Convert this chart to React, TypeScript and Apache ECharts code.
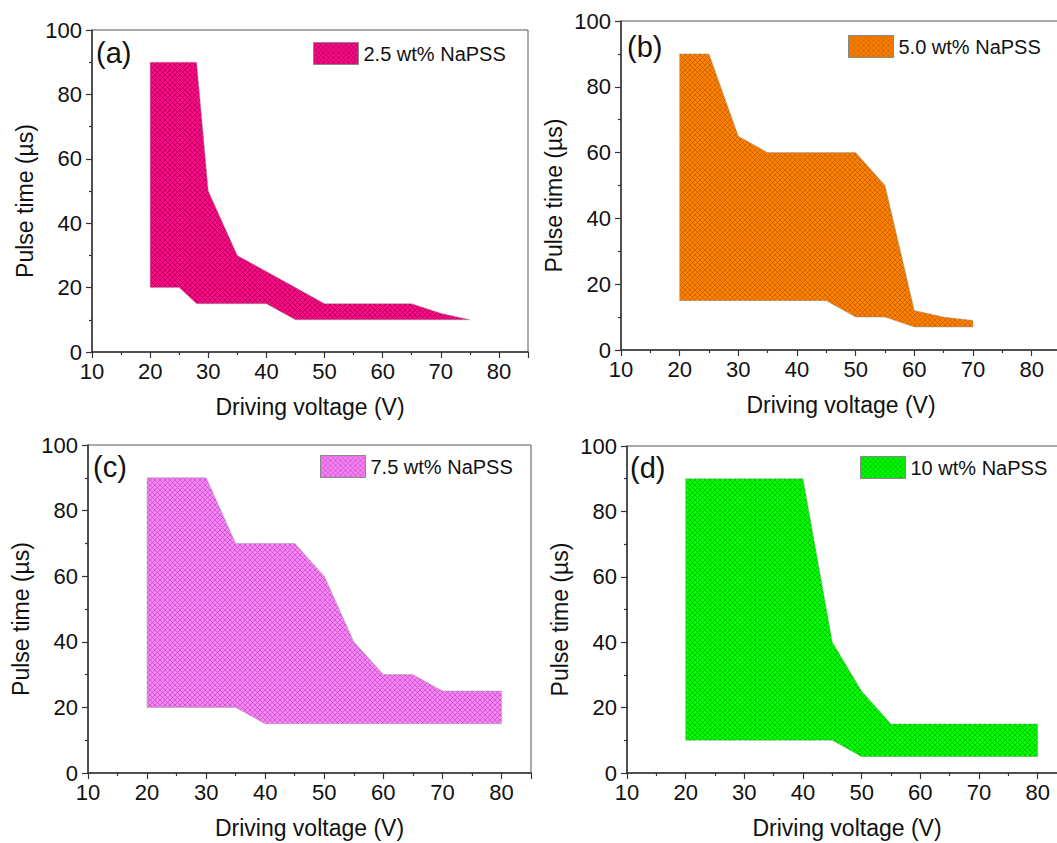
import React, { useEffect, useRef } from "react";
import * as echarts from "echarts";

// ---------- data ----------
const panelLabels = ["(a)", "(b)", "(c)", "(d)"];
const seriesNames = ["2.5 wt% NaPSS", "5.0 wt% NaPSS", "7.5 wt% NaPSS", "10 wt% NaPSS"];
const xName = "Driving voltage (V)";
const yName = "Pulse time (\u00B5s)";

// upper and lower boundaries of the working window, [voltage, pulse time]
const upperA = [[20, 90], [28, 90], [30, 50], [35, 30], [40, 25], [45, 20], [50, 15], [65, 15], [70, 12], [75, 10]];
const lowerA = [[20, 20], [25, 20], [28, 15], [40, 15], [45, 10], [75, 10]];
const upperB = [[20, 90], [25, 90], [30, 65], [35, 60], [50, 60], [55, 50], [60, 12], [65, 10], [70, 9]];
const lowerB = [[20, 15], [45, 15], [50, 10], [55, 10], [60, 7], [70, 7]];
const upperC = [[20, 90], [30, 90], [35, 70], [45, 70], [50, 60], [55, 40], [60, 30], [65, 30], [70, 25], [80, 25]];
const lowerC = [[20, 20], [35, 20], [40, 15], [80, 15]];
const upperD = [[20, 90], [40, 90], [45, 40], [50, 25], [55, 15], [80, 15]];
const lowerD = [[20, 10], [45, 10], [50, 5], [80, 5]];

const uppers = [upperA, upperB, upperC, upperD];
const lowers = [lowerA, lowerB, lowerC, lowerD];

// ---------- style / layout ----------
const FONT = '"Liberation Sans", Arial, sans-serif';
const grids = [
  { left: 92, top: 30, width: 436, height: 322 },
  { left: 621, top: 21, width: 440, height: 329 },
  { left: 88, top: 445, width: 443, height: 328 },
  { left: 627, top: 446, width: 440, height: 327 },
];
const legendPos = [
  { left: 313, top: 42 },
  { left: 848, top: 35 },
  { left: 320, top: 455 },
  { left: 860, top: 456 },
];
const labelPos = [
  { x: 96, y: 53 },
  { x: 627, y: 47 },
  { x: 93, y: 467 },
  { x: 630, y: 468 },
];
const fillColors = [
  { base: "#ff0a86", line: "#a8005a" },
  { base: "#ff8000", line: "#c06200" },
  { base: "#ff80ff", line: "#b45ab4" },
  { base: "#00ff00", line: "#00b400" },
];

function makePattern(base: string, line: string) {
  const s = 5;
  const c = document.createElement("canvas");
  c.width = s;
  c.height = s;
  const ctx = c.getContext("2d")!;
  ctx.fillStyle = base;
  ctx.fillRect(0, 0, s, s);
  ctx.strokeStyle = line;
  ctx.lineWidth = 0.8;
  ctx.beginPath();
  ctx.moveTo(-1, -1);
  ctx.lineTo(s + 1, s + 1);
  ctx.moveTo(-1, s + 1);
  ctx.lineTo(s + 1, -1);
  ctx.stroke();
  return { image: c, repeat: "repeat", imageWidth: s, imageHeight: s } as any;
}

export default function App() {
  const ref = useRef<HTMLDivElement>(null);
  useEffect(() => {
    if (!ref.current) return;
    const chart = echarts.init(ref.current, undefined, { renderer: "svg" });
    const patterns = fillColors.map((f) => makePattern(f.base, f.line));

    const xAxes = grids.map((_, i) => ({
      type: "value",
      gridIndex: i,
      min: 10,
      max: 85,
      interval: 10,
      name: xName,
      nameLocation: "middle",
      nameGap: 43,
      nameTextStyle: { fontSize: 23, fontFamily: FONT, color: "#111" },
      axisLine: { show: true, onZero: false, lineStyle: { color: "#333", width: 1.5 } },
      axisTick: { show: true, inside: false, length: 6, lineStyle: { color: "#333", width: 1.2 } },
      minorTick: { show: true, splitNumber: 2, length: 3, lineStyle: { color: "#333", width: 1.2 } },
      axisLabel: { fontSize: 22, fontFamily: FONT, color: "#111", margin: 8, showMaxLabel: false },
      splitLine: { show: false },
      minorSplitLine: { show: false },
    }));
    const yAxes = grids.map((_, i) => ({
      type: "value",
      gridIndex: i,
      min: 0,
      max: 100,
      interval: 20,
      name: yName,
      nameLocation: "middle",
      nameGap: 56,
      nameTextStyle: { fontSize: 23, fontFamily: FONT, color: "#111", padding: [0, 20, 0, 0] },
      axisLine: { show: true, lineStyle: { color: "#333", width: 1.5 } },
      axisTick: { show: true, inside: false, length: 6, lineStyle: { color: "#333", width: 1.2 } },
      minorTick: { show: true, splitNumber: 2, length: 3, lineStyle: { color: "#333", width: 1.2 } },
      axisLabel: { fontSize: 22, fontFamily: FONT, color: "#111", margin: 10 },
      splitLine: { show: false },
      minorSplitLine: { show: false },
    }));

    const series = grids.map((_, i) => {
      const pts = uppers[i].concat(lowers[i].slice().reverse());
      return {
        type: "custom",
        name: seriesNames[i],
        xAxisIndex: i,
        yAxisIndex: i,
        data: pts,
        silent: true,
        itemStyle: { color: fillColors[i].base },
        renderItem: (params: any, api: any) => {
          if (params.dataIndex !== 0) return null;
          const points = pts.map((p) => api.coord(p));
          return {
            type: "polygon",
            shape: { points },
            style: { fill: patterns[i], stroke: "rgba(150,150,150,0.6)", lineWidth: 0.8 },
          };
        },
      };
    });

    const legends = grids.map((_, i) => ({
      data: [
        {
          name: seriesNames[i],
          icon: "rect",
          itemStyle: { color: patterns[i], borderColor: "#888", borderWidth: 1 },
        },
      ],
      left: legendPos[i].left,
      top: legendPos[i].top,
      padding: 0,
      itemWidth: 45,
      itemHeight: 22,
      selectedMode: false,
      textStyle: { fontSize: 20, fontFamily: FONT, color: "#111" },
    }));

    const graphics = labelPos.map((p, i) => ({
      type: "text",
      x: p.x,
      y: p.y,
      silent: true,
      style: {
        text: panelLabels[i],
        fontSize: 29,
        fontFamily: FONT,
        fill: "#111",
        align: "left",
        verticalAlign: "middle",
      },
    }));

    chart.setOption({
      animation: false,
      backgroundColor: "#ffffff",
      grid: grids.map((g) => ({
        ...g,
        show: true,
        borderColor: "#555",
        borderWidth: 1,
        backgroundColor: "transparent",
        containLabel: false,
        outerBoundsMode: "none",
      })),
      xAxis: xAxes,
      yAxis: yAxes,
      legend: legends,
      series,
      graphic: graphics,
    } as any);
    return () => chart.dispose();
  }, []);
  return (
    <div
      ref={ref}
      style={{ position: "fixed", left: 0, top: 0, width: 1057, height: 843, background: "#fff" }}
    />
  );
}
